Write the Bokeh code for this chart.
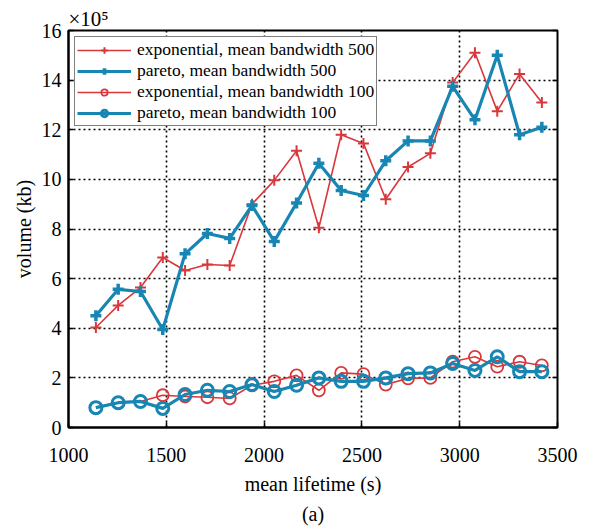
from bokeh.plotting import figure
from bokeh.models import Range1d, FixedTicker, LinearAxis, Title, Legend
from bokeh.embed import file_html
from bokeh.resources import INLINE

lifetime = [1140, 1254, 1368, 1482, 1596, 1710, 1824, 1938, 2052, 2166, 2280,
            2394, 2508, 2622, 2736, 2850, 2964, 3078, 3192, 3306, 3420]
exp_500 = [4.03, 4.92, 5.64, 6.85, 6.33, 6.57, 6.53, 9.0, 9.96, 11.15, 8.05,
           11.8, 11.45, 9.2, 10.5, 11.05, 13.9, 15.1, 12.75, 14.25, 13.1]
par_500 = [4.5, 5.57, 5.48, 3.95, 7.0, 7.82, 7.62, 8.95, 7.5, 9.05, 10.65,
           9.55, 9.35, 10.75, 11.55, 11.55, 13.75, 12.4, 15.0, 11.8, 12.1]
exp_100 = [0.8, 1.0, 1.05, 1.3, 1.25, 1.22, 1.17, 1.7, 1.86, 2.1, 1.5,
           2.2, 2.15, 1.73, 1.98, 2.0, 2.65, 2.85, 2.45, 2.65, 2.5]
par_100 = [0.8, 1.0, 1.05, 0.77, 1.33, 1.5, 1.45, 1.73, 1.45, 1.7, 2.0,
           1.86, 1.86, 2.0, 2.17, 2.2, 2.58, 2.3, 2.85, 2.25, 2.25]
x_ticks = [1000, 1500, 2000, 2500, 3000, 3500]
y_ticks = [0, 2, 4, 6, 8, 10, 12, 14, 16]
labels = ["exponential, mean bandwidth 500", "pareto, mean bandwidth 500",
          "exponential, mean bandwidth 100", "pareto, mean bandwidth 100"]

RED = "#d8383c"
BLUE = "#1886b2"
FONT = "Liberation Serif"

p = figure(width=599, height=527, output_backend="svg", toolbar_location=None,
           x_range=Range1d(1000, 3500), y_range=Range1d(0, 16),
           min_border_left=68, min_border_right=42, min_border_top=30,
           min_border_bottom=98)
p.background_fill_color = "white"
p.border_fill_color = "white"
p.outline_line_color = "black"
p.outline_line_width = 2

p.title.text = "×10⁵"
p.title.align = "left"
p.title.text_font = FONT
p.title.text_font_size = "21px"
p.title.text_font_style = "normal"
p.title.text_color = "black"
p.title.standoff = 0

for ax in (p.xaxis[0], p.yaxis[0]):
    ax.major_label_text_font = FONT
    ax.major_label_text_font_size = "20px"
    ax.major_label_text_color = "black"
    ax.axis_label_text_font = FONT
    ax.axis_label_text_font_size = "20px"
    ax.axis_label_text_font_style = "normal"
    ax.axis_label_text_color = "black"
    ax.major_tick_in = 5
    ax.major_tick_out = 0
    ax.minor_tick_line_color = None
    ax.major_tick_line_color = "black"
    ax.major_tick_line_width = 1.5
    ax.axis_line_color = "black"
    ax.axis_line_width = 2

p.xaxis[0].ticker = FixedTicker(ticks=x_ticks)
p.yaxis[0].ticker = FixedTicker(ticks=y_ticks)
p.xaxis[0].axis_label = "mean lifetime (s)"
p.yaxis[0].axis_label = "volume (kb)"
p.xaxis[0].major_label_standoff = 20
p.xaxis[0].axis_label_standoff = 8
p.yaxis[0].major_label_standoff = 7
p.yaxis[0].axis_label_standoff = 4

right = LinearAxis(ticker=FixedTicker(ticks=y_ticks), major_label_text_font_size="0px",
                   major_tick_in=5, major_tick_out=0, minor_tick_line_color=None,
                   major_tick_line_width=1.5, axis_line_color=None)
p.add_layout(right, "right")

for g in (p.xgrid[0], p.ygrid[0]):
    g.grid_line_color = "black"
    g.grid_line_dash = "2 3"
    g.grid_line_width = 1.6

r1 = p.line(lifetime, exp_500, color=RED, line_width=1.6)
s1 = p.scatter(lifetime, exp_500, marker="cross", size=11, line_color=RED, line_width=2)
r2 = p.line(lifetime, par_500, color=BLUE, line_width=3.2)
s2 = p.scatter(lifetime, par_500, marker="cross", size=11, line_color=BLUE, line_width=3.5)
r3 = p.line(lifetime, exp_100, color=RED, line_width=1.6)
s3 = p.scatter(lifetime, exp_100, marker="circle", size=12, line_color=RED,
               fill_color=None, line_width=1.8)
r4 = p.line(lifetime, par_100, color=BLUE, line_width=3.2)
s4 = p.scatter(lifetime, par_100, marker="circle", size=12, line_color=BLUE,
               fill_color=None, line_width=3)

legend = Legend(items=[(labels[0], [r1, s1]), (labels[1], [r2, s2]),
                       (labels[2], [r3, s3]), (labels[3], [r4, s4])],
                location="top_left")
legend.margin = 6
legend.padding = 2
legend.spacing = -2
legend.glyph_width = 54
legend.glyph_height = 16
legend.label_height = 16
legend.label_standoff = 6
legend.label_text_font = FONT
legend.label_text_font_size = "17.5px"
legend.label_text_color = "black"
legend.border_line_color = "black"
legend.border_line_width = 1.5
legend.background_fill_color = "white"
legend.background_fill_alpha = 1.0
p.add_layout(legend)

p.add_layout(Title(text="(a)", align="center", text_font=FONT, text_font_size="20px",
                   text_font_style="normal", text_color="black", standoff=6), "below")

open("out.html", "w").write(file_html(p, INLINE))
